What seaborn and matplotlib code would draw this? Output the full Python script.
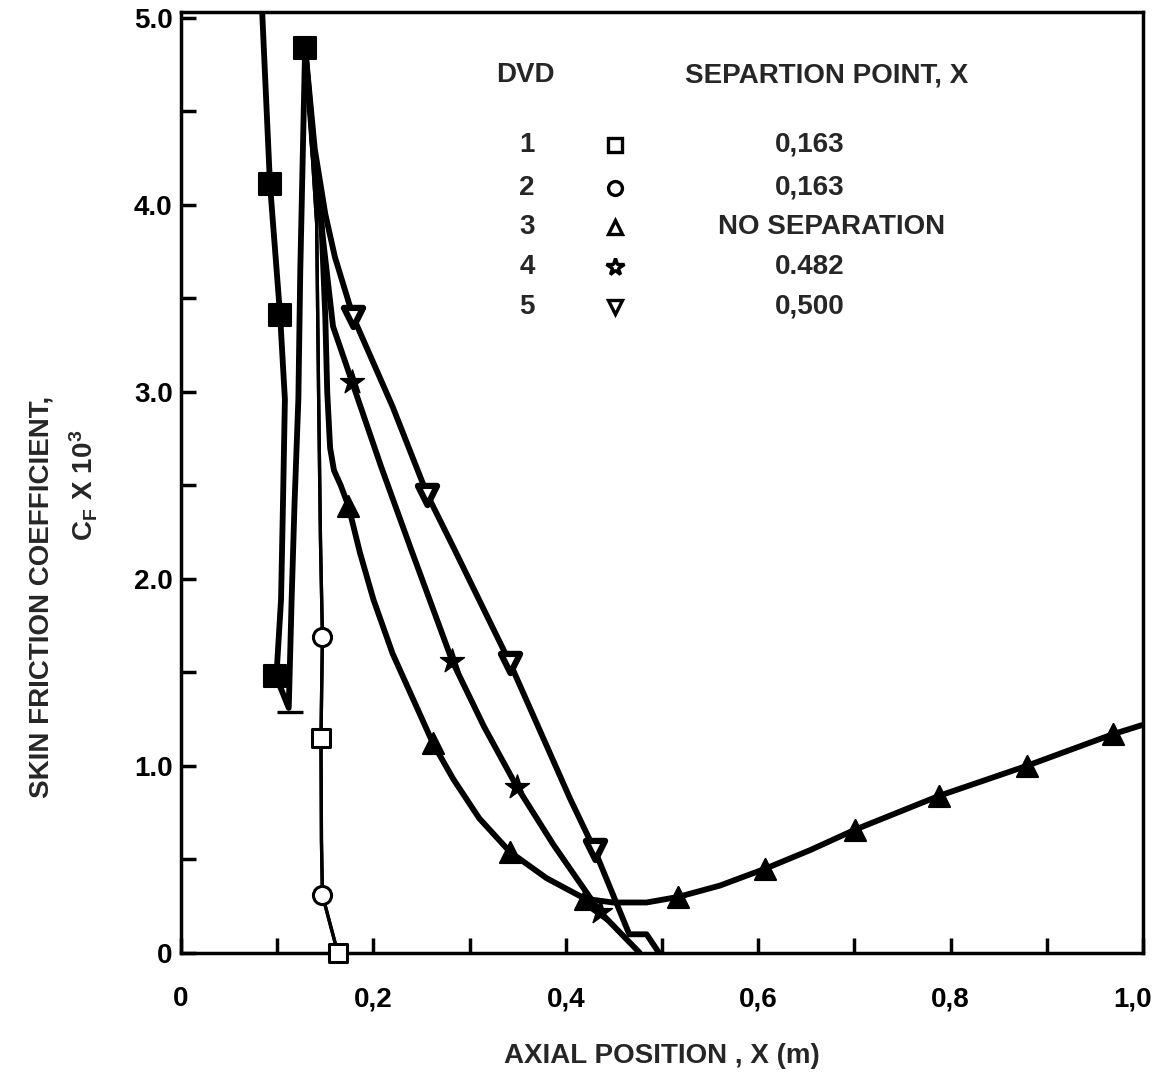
import numpy as np
import pandas as pd
import matplotlib
matplotlib.use("Agg")
import matplotlib.pyplot as plt
import matplotlib.transforms as mtransforms
import seaborn as sns

# ---- digitised skin-friction traces (x in m, Cf x 10^3) ----
# upstream lobe: down the left branch to the cap, back up to the peak
lead_x = [0.082, 0.0925, 0.103, 0.108, 0.106, 0.104, 0.100, 0.101, 0.112, 0.115, 0.118, 0.122, 0.124, 0.129]
lead_y = [5.30, 4.11, 3.41, 2.96, 2.40, 1.89, 1.55, 1.45, 1.31, 1.89, 2.40, 2.96, 3.65, 4.84]
lead_mark_x = [0.0925, 0.103, 0.098, 0.129]
lead_mark_y = [4.11, 3.41, 1.48, 4.84]
cap_y = 1.29
cap_x = [0.100, 0.127]

dvd1_x = [0.129, 0.136, 0.141, 0.143, 0.145, 0.147, 0.1455, 0.146, 0.147, 0.163]
dvd1_y = [4.84, 4.30, 3.90, 3.00, 2.20, 1.69, 1.15, 0.60, 0.31, 0.00]
dvd1_mark_x = [0.1455, 0.163]
dvd1_mark_y = [1.15, 0.00]

dvd2_x = [0.129, 0.136, 0.141, 0.143, 0.145, 0.147, 0.1455, 0.146, 0.147, 0.163]
dvd2_y = [4.84, 4.30, 3.90, 3.00, 2.20, 1.69, 1.15, 0.60, 0.31, 0.00]
dvd2_mark_x = [0.147, 0.147]
dvd2_mark_y = [1.69, 0.31]

dvd3_x = [0.129, 0.137, 0.146, 0.150, 0.152, 0.155, 0.159, 0.166, 0.174, 0.186, 0.200,
          0.220, 0.241, 0.262, 0.283, 0.310, 0.342, 0.380, 0.420, 0.449, 0.484, 0.517,
          0.560, 0.607, 0.654, 0.701, 0.788, 0.879, 0.969, 1.000]
dvd3_y = [4.84, 4.30, 3.90, 3.40, 3.00, 2.70, 2.58, 2.50, 2.39, 2.14, 1.89,
          1.60, 1.36, 1.12, 0.93, 0.72, 0.54, 0.40, 0.29, 0.27, 0.27, 0.30,
          0.36, 0.45, 0.55, 0.66, 0.84, 1.00, 1.17, 1.22]
dvd3_mark_x = [0.174, 0.262, 0.342, 0.420, 0.517, 0.607, 0.701, 0.788, 0.879, 0.969]
dvd3_mark_y = [2.39, 1.12, 0.54, 0.29, 0.30, 0.45, 0.66, 0.84, 1.00, 1.17]

dvd4_x = [0.129, 0.138, 0.148, 0.158, 0.178, 0.208, 0.239, 0.282, 0.315, 0.349, 0.387, 0.4355, 0.477]
dvd4_y = [4.84, 4.30, 3.80, 3.35, 3.05, 2.60, 2.16, 1.56, 1.21, 0.89, 0.58, 0.22, 0.00]
dvd4_mark_x = [0.178, 0.282, 0.349, 0.4355]
dvd4_mark_y = [3.05, 1.56, 0.89, 0.22]

dvd5_x = [0.129, 0.139, 0.150, 0.160, 0.179, 0.220, 0.256, 0.284, 0.342, 0.404, 0.430, 0.466, 0.484, 0.497]
dvd5_y = [4.84, 4.30, 3.95, 3.72, 3.40, 2.92, 2.45, 2.16, 1.55, 0.83, 0.55, 0.10, 0.10, 0.00]
dvd5_mark_x = [0.179, 0.256, 0.342, 0.430]
dvd5_mark_y = [3.40, 2.45, 1.55, 0.55]

# key table
dvd_ids = ["1", "2", "3", "4", "5"]
dvd_markers = ["s", "o", "^", "*", "v"]
sep_labels = ["0,163", "0,163", "NO SEPARATION", "0.482", "0,500"]

x_ticks = [0.0, 0.1, 0.2, 0.3, 0.4, 0.5, 0.6, 0.7, 0.8, 0.9, 1.0]
x_ticklabels = ["0", "", "0,2", "", "0,4", "", "0,6", "", "0,8", "", "1,0"]
y_ticks = [0.0, 0.5, 1.0, 1.5, 2.0, 2.5, 3.0, 3.5, 4.0, 4.5, 5.0]
y_ticklabels = ["0", "", "1.0", "", "2.0", "", "3.0", "", "4.0", "", "5.0"]

# ---- styling ----
sns.set_style("ticks")
plt.rcParams["font.family"] = ["Liberation Sans", "DejaVu Sans"]
plt.rcParams["font.weight"] = "bold"
plt.rcParams["mathtext.fontset"] = "custom"
plt.rcParams["mathtext.rm"] = "Liberation Sans:bold"
plt.rcParams["mathtext.it"] = "Liberation Sans:bold"
plt.rcParams["mathtext.bf"] = "Liberation Sans:bold"

FS = 20
INK = "black"

fig = plt.figure(figsize=(11.6, 10.83), dpi=100)
ax = fig.add_axes([181 / 1160, 1 - 953 / 1083, (1143 - 181) / 1160, (953 - 12) / 1083])

curves = {
    "lead": (lead_x, lead_y, 4.2),
    "dvd1": (dvd1_x, dvd1_y, 2.4),
    "dvd2": (dvd2_x, dvd2_y, 2.4),
    "dvd3": (dvd3_x, dvd3_y, 4.2),
    "dvd4": (dvd4_x, dvd4_y, 4.2),
    "dvd5": (dvd5_x, dvd5_y, 4.2),
}
for name, (xs, ys, lw) in curves.items():
    df = pd.DataFrame({"x": xs, "y": ys})
    sns.lineplot(data=df, x="x", y="y", sort=False, estimator=None, color=INK,
                 lw=lw, ax=ax, solid_joinstyle="round", solid_capstyle="round")

# bottom cap of the upstream lobe
ax.plot(cap_x, [cap_y, cap_y], color=INK, lw=2.4, solid_capstyle="butt")

marker_sets = [
    (lead_mark_x, lead_mark_y, "s", 230, INK, 1.5),
    (dvd1_mark_x, dvd1_mark_y, "s", 150, "white", 2.2),
    (dvd2_mark_x, dvd2_mark_y, "o", 170, "white", 2.2),
    (dvd3_mark_x, dvd3_mark_y, "^", 230, INK, 1.5),
    (dvd4_mark_x, dvd4_mark_y, "*", 330, INK, 1.0),
    (dvd5_mark_x, dvd5_mark_y, "v", 190, "white", 4.5),
]
for xs, ys, mk, s, fc, ew in marker_sets:
    sns.scatterplot(x=xs, y=ys, marker=mk, s=s, color=fc, edgecolor=INK,
                    linewidth=ew, ax=ax, zorder=5, clip_on=False)

ax.set_xlim(0, 1.0)
ax.set_ylim(0, 5.03)
ax.set_xticks(x_ticks)
ax.set_xticklabels(x_ticklabels)
ax.set_yticks(y_ticks)
ax.set_yticklabels(y_ticklabels)
ax.tick_params(axis="both", direction="in", length=11, width=2.5, labelsize=FS, colors=INK)
ax.tick_params(axis="x", pad=24)
ax.tick_params(axis="y", pad=6)
for lab in ax.get_xticklabels() + ax.get_yticklabels():
    lab.set_fontweight("bold")
# keep the last x label inside the figure edge
last = ax.get_xticklabels()[-1]
last.set_transform(last.get_transform() + mtransforms.ScaledTranslation(-10 / 100, 0, fig.dpi_scale_trans))
for sp in ax.spines.values():
    sp.set_visible(True)
    sp.set_linewidth(2.5)
    sp.set_color(INK)

ax.set_xlabel("AXIAL POSITION , X (m)", fontsize=FS, fontweight="bold", labelpad=22)
ax.set_ylabel("")

fig.text(42 / 1160, 1 - 597 / 1083, "SKIN FRICTION COEFFICIENT,", rotation=90,
         ha="center", va="center", fontsize=FS, fontweight="bold")
fig.text(84 / 1160, 1 - 485 / 1083, r"$\mathrm{C_F\ X\ 10^3}$", rotation=90,
         ha="center", va="center", fontsize=FS)

# ---- key table ----
def px2data(px, py):
    return (px - 181) / 962, (953 - py) / (941 / 5.03)

hx, hy = px2data(525, 75)
ax.text(hx, hy, "DVD", ha="center", va="center", fontsize=FS, fontweight="bold")
sx, _ = px2data(827, 75)
ax.text(sx, hy, "SEPARTION POINT, X", ha="center", va="center", fontsize=FS, fontweight="bold")

row_py = [145, 188, 227, 267, 307]
val_px = [810, 810, 832, 810, 810]
for i, (did, mk, lab) in enumerate(zip(dvd_ids, dvd_markers, sep_labels)):
    nx, ny = px2data(527, row_py[i])
    ax.text(nx, ny, did, ha="center", va="center", fontsize=FS, fontweight="bold")
    mx, _ = px2data(615, row_py[i])
    msz = 13 if mk == "*" else 10
    ax.plot([mx], [ny], marker=mk, ms=msz, mfc="white", mec=INK, mew=2.4, ls="none")
    vx, _ = px2data(val_px[i], row_py[i])
    ax.text(vx, ny, lab, ha="center", va="center", fontsize=FS, fontweight="bold")

fig.savefig("out.png", dpi=100, facecolor="white")
